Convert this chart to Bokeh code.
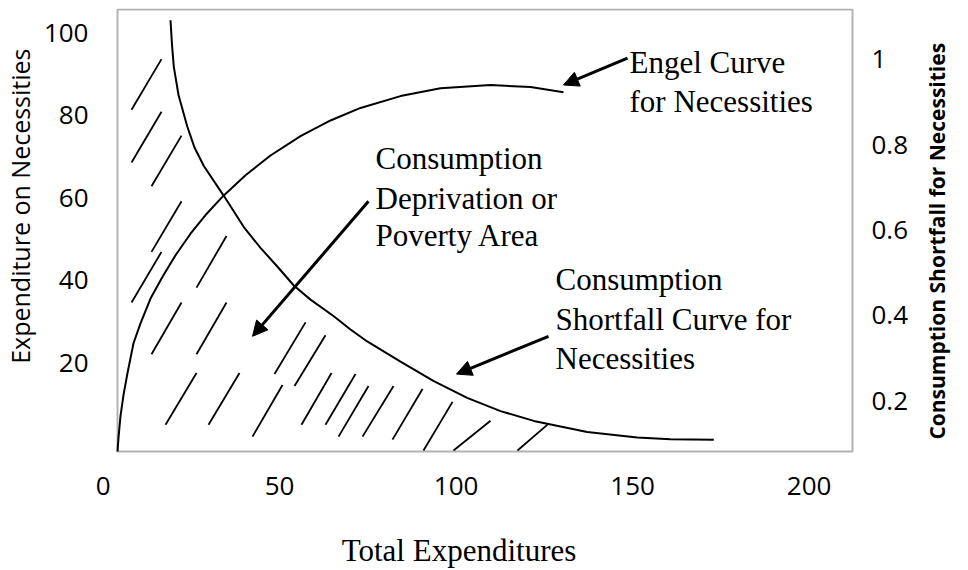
import math
from bokeh.plotting import figure
from bokeh.models import (Range1d, LinearAxis, FixedTicker, BoxAnnotation, Label,
                          Arrow, NormalHead, Title)
from bokeh.embed import file_html
from bokeh.resources import INLINE

# ---------------- data ----------------
# Engel curve for necessities (Total expenditures vs Expenditure on necessities)
engel_x = [4.08, 4.36, 4.93, 5.78, 6.91, 8.61, 10.59, 13.43, 16.83, 20.51, 24.76,
           29.01, 34.11, 40.34, 47.42, 55.92, 64.42, 72.92, 84.25, 95.58, 109.75,
           121.08, 130.42]
engel_y = [-1.59, 1.78, 7.08, 12.14, 17.45, 24.67, 29.49, 35.52, 40.82, 46.02, 51.25,
           55.78, 60.48, 65.45, 70.22, 74.92, 78.72, 81.76, 84.63, 86.53, 87.33,
           86.82, 85.54]

# Consumption shortfall curve (right axis)
shortfall_x = [19.09, 19.52, 20.03, 21.36, 23.82, 25.89, 28.53, 34.19, 39.86, 44.59,
               49.41, 54.02, 58.75, 65.35, 70.08, 74.82, 84.25, 93.68, 103.14, 112.58,
               122.01, 129.58, 137.14, 151.30, 160.74, 173.00]
shortfall_y = [1.091, 1.033, 0.982, 0.916, 0.843, 0.793, 0.750, 0.680, 0.607, 0.558,
               0.514, 0.470, 0.437, 0.398, 0.367, 0.339, 0.292, 0.246, 0.207, 0.176,
               0.153, 0.140, 0.127, 0.114, 0.110, 0.109]

# Hatching of the consumption deprivation (poverty) area
hatch_x0 = [8.05, 8.05, 13.71, 13.71, 8.05, 13.71, 26.46, 26.46, 17.68, 29.86, 42.32,
            48.56, 54.22, 56.20, 63.00, 66.69, 73.48, 81.98, 90.76, 99.26, 117.39]
hatch_y0 = [81.30, 68.53, 62.75, 46.84, 34.55, 22.02, 38.17, 22.02, 4.92, 4.92, 2.02,
            17.20, 14.31, 4.92, 4.92, 2.02, 2.02, 1.30, -1.35, -1.35, -1.35]
hatch_x1 = [16.54, 16.54, 22.21, 22.21, 16.54, 22.21, 34.96, 34.96, 26.46, 38.64, 50.82,
            57.34, 63.00, 64.70, 71.50, 75.18, 82.27, 90.48, 98.98, 109.75, 125.89]
hatch_y1 = [93.59, 80.82, 75.04, 59.13, 46.84, 34.55, 50.70, 34.55, 17.45, 17.45, 14.55,
            29.73, 26.60, 17.45, 17.20, 14.31, 14.31, 13.59, 10.46, 5.88, 4.92]

# Ticks
x_ticks = [0, 50, 100, 150, 200]
y_ticks = [20, 40, 60, 80, 100]
shortfall_ticks = [0.2, 0.4, 0.6, 0.8, 1.0]
shortfall_tick_labels = ["0.2", "0.4", "0.6", "0.8", "1"]

# Titles
x_title = "Total Expenditures"
y_title = "Expenditure on Necessities"
y2_title = "Consumption Shortfall for Necessities"

# Annotations
annot_texts = ["Engel Curve", "for Necessities",
               "Consumption", "Deprivation or", "Poverty Area",
               "Consumption", "Shortfall Curve for", "Necessities"]
annot_x = [149.12, 149.12, 77.17, 77.17, 77.17, 128.16, 128.16, 128.16]
annot_y = [92.87, 83.23, 69.49, 59.85, 50.70, 40.10, 30.46, 21.06]

arrow_x_start = [148.56, 75.18, 126.18]
arrow_y_start = [93.83, 59.13, 26.36]
arrow_x_end = [130.42, 42.32, 100.11]
arrow_y_end = [87.33, 26.36, 17.20]

# ---------------- figure ----------------
SERIF = "Liberation Serif"
SANS = "Open Sans"

p = figure(width=968, height=570, output_backend="svg", toolbar_location=None,
           title=None,
           x_range=Range1d(-4.14, 212.86), y_range=Range1d(-2.07, 105.88),
           min_border_left=88, min_border_right=114, min_border_top=8,
           min_border_bottom=114)
p.extra_y_ranges = {"shortfall": Range1d(0.0767, 1.1186)}
p.xgrid.visible = False
p.ygrid.visible = False
p.outline_line_color = None
p.background_fill_color = "white"
p.border_fill_color = "white"


def style_axis(ax, standoff, size="26px"):
    ax.axis_line_color = None
    ax.major_tick_line_color = None
    ax.minor_tick_line_color = None
    ax.major_tick_out = 0
    ax.major_tick_in = 0
    ax.major_label_standoff = standoff
    ax.major_label_text_font = SANS
    ax.major_label_text_font_size = size
    ax.major_label_text_color = "black"


xa = p.xaxis[0]
xa.ticker = FixedTicker(ticks=x_ticks)
style_axis(xa, 23)

ya = p.yaxis[0]
ya.ticker = FixedTicker(ticks=y_ticks)
style_axis(ya, 0)

ra = LinearAxis(y_range_name="shortfall", ticker=FixedTicker(ticks=shortfall_ticks),
                major_label_overrides=dict(zip(shortfall_ticks, shortfall_tick_labels)))
style_axis(ra, 17)
p.add_layout(ra, "right")

# Bottom title, centred under the middle of the figure
bottom_title_pos = 100.82
bt = LinearAxis(ticker=FixedTicker(ticks=[bottom_title_pos]),
                major_label_overrides={bottom_title_pos: x_title})
style_axis(bt, 35, "31px")
bt.major_label_text_font = SERIF
p.add_layout(bt, "below")

# Left title, reading upwards
p.add_layout(Title(text=y_title, align="right", vertical_align="top", offset=40,
                   standoff=3, text_font=SANS, text_font_size="25px",
                   text_font_style="normal", text_color="black"), "left")

# Right title, reading upwards
right_title_pos = 0.1093
rt = LinearAxis(y_range_name="shortfall", ticker=FixedTicker(ticks=[right_title_pos]),
                major_label_overrides={right_title_pos: y2_title})
style_axis(rt, 26, "21px")
rt.major_label_text_font_style = "bold"
rt.major_label_orientation = math.pi / 2
p.add_layout(rt, "right")

# frame box
p.add_layout(BoxAnnotation(left=4.08, right=212.29, bottom=-1.59, top=105.64,
                           fill_color=None, fill_alpha=0, line_color="black",
                           line_width=2))

# hatching
p.segment(x0=hatch_x0, y0=hatch_y0, x1=hatch_x1, y1=hatch_y1,
          line_color="black", line_width=1.8)

# curves
p.line(engel_x, engel_y, line_color="black", line_width=2)
p.line(shortfall_x, shortfall_y, line_color="black", line_width=2,
       y_range_name="shortfall")

# arrows
for xs, ys, xe, ye in zip(arrow_x_start, arrow_y_start, arrow_x_end, arrow_y_end):
    p.add_layout(Arrow(end=NormalHead(size=15, fill_color="black", line_color="black"),
                       x_start=xs, y_start=ys, x_end=xe, y_end=ye,
                       line_color="black", line_width=3))

# annotation texts
for t, x, y in zip(annot_texts, annot_x, annot_y):
    p.add_layout(Label(x=x, y=y, text=t, text_font=SERIF, text_font_size="31px",
                       text_baseline="alphabetic", text_align="left",
                       text_color="black"))

open("out.html", "w").write(file_html(p, INLINE))
